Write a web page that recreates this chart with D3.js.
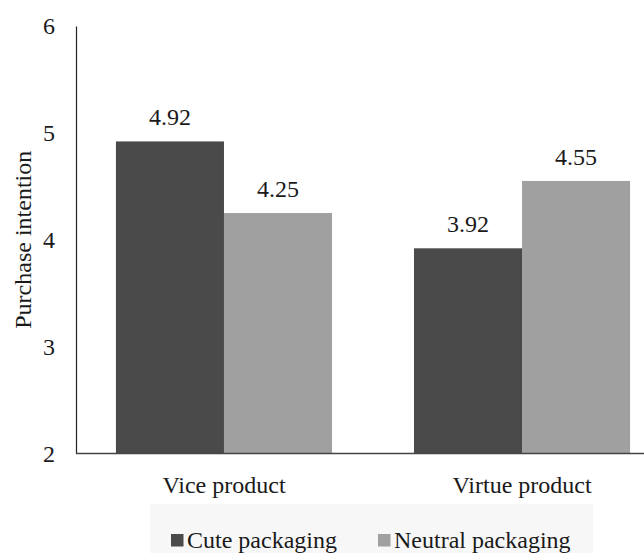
<!DOCTYPE html>
<html>
<head>
<meta charset="utf-8">
<script src="https://cdn.jsdelivr.net/npm/d3@7"></script>
</head>
<body style="margin:0;background:#fff">
<svg id="chart" width="644" height="553" style="display:block"></svg>
<script>
// Purchase intention by product type and packaging
const categories = ["Vice product", "Virtue product"];
const seriesNames = ["Cute packaging", "Neutral packaging"];
const cuteValues = [4.92, 3.92];
const neutralValues = [4.25, 4.55];
const yTicks = [2, 3, 4, 5, 6];
const colors = ["#4a4a4a", "#a0a0a0"];

const FONT = '"Liberation Serif", "Tinos", "Times New Roman", serif';
const FS = 24;
const TEXT = "#1a1a1a";
const W = 644;
const axisX = 76;

const svg = d3.select("#chart");

const x0 = d3.scaleBand().domain(categories)
  .range([axisX, 670]).paddingInner(0.275).paddingOuter(0.134);
const x1 = d3.scaleBand().domain(seriesNames).range([0, x0.bandwidth()]);
const y = d3.scaleLinear().domain([2, 6]).range([453.5, 26]);

const rows = categories.map((c, i) => ({
  cat: c,
  vals: [
    { s: seriesNames[0], v: cuteValues[i], color: colors[0] },
    { s: seriesNames[1], v: neutralValues[i], color: colors[1] }
  ]
}));

// bars
const groups = svg.append("g").selectAll("g").data(rows).join("g")
  .attr("transform", d => `translate(${x0(d.cat)},0)`);
groups.selectAll("rect").data(d => d.vals).join("rect")
  .attr("x", d => x1(d.s))
  .attr("width", x1.bandwidth())
  .attr("y", d => y(d.v))
  .attr("height", d => y(2) - y(d.v))
  .attr("fill", d => d.color);

// value labels above bars
groups.selectAll("text").data(d => d.vals).join("text")
  .attr("x", d => x1(d.s) + x1.bandwidth() / 2)
  .attr("y", d => y(d.v) - 16)
  .attr("text-anchor", "middle")
  .attr("font-size", FS)
  .style("font-family", FONT)
  .attr("fill", TEXT)
  .text(d => d.v.toFixed(2));

// y axis
const yAxis = d3.axisLeft(y).tickValues(yTicks).tickSize(0).tickPadding(21)
  .tickFormat(d3.format("d"));
const ya = svg.append("g").attr("transform", `translate(${axisX},0)`).call(yAxis);
ya.select(".domain").attr("stroke", "#222").attr("stroke-width", 1.2);
ya.selectAll("text").attr("font-size", FS).style("font-family", FONT)
  .attr("fill", TEXT).attr("dy", "0.33em");

// baseline across the plot
svg.append("line")
  .attr("x1", axisX).attr("x2", W)
  .attr("y1", y(2)).attr("y2", y(2))
  .attr("stroke", "#444").attr("stroke-width", 1.3);

// category labels
const xAxis = d3.axisBottom(x0).tickSize(0).tickPadding(22);
const xa = svg.append("g").attr("transform", `translate(0,${y(2)})`).call(xAxis);
xa.select(".domain").remove();
xa.selectAll("text").attr("font-size", FS).style("font-family", FONT).attr("fill", TEXT);

// y axis title
svg.append("text")
  .attr("transform", `translate(31,${y(4)}) rotate(-90)`)
  .attr("text-anchor", "middle")
  .attr("font-size", FS)
  .style("font-family", FONT)
  .attr("fill", TEXT)
  .text("Purchase intention");

// legend
svg.append("rect").attr("x", 150).attr("y", 504).attr("width", 443).attr("height", 49)
  .attr("fill", "#f7f7f7");
const legendX = [171, 378];
const lg = svg.append("g").selectAll("g").data(seriesNames).join("g")
  .attr("transform", (d, i) => `translate(${legendX[i]},548)`);
lg.append("rect").attr("x", 0).attr("y", -14).attr("width", 12.5).attr("height", 12.5)
  .attr("fill", (d, i) => colors[i]);
lg.append("text").attr("x", 16).attr("y", 0).attr("font-size", FS)
  .style("font-family", FONT).attr("fill", TEXT)
  .text(d => d);
</script>
</body>
</html>
